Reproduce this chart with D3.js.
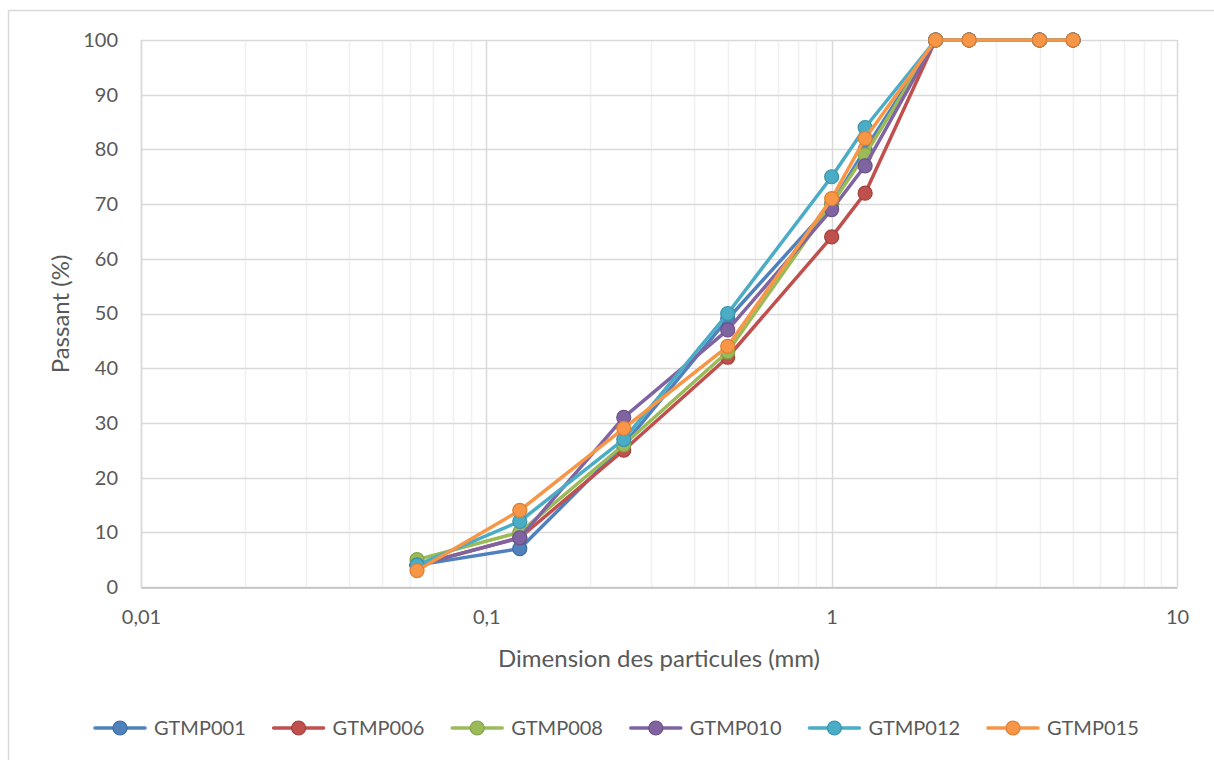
<!DOCTYPE html>
<html>
<head>
<meta charset="utf-8">
<script src="https://cdn.jsdelivr.net/npm/d3@7"></script>
<style>
	body { margin:0; background:#fff; }
	svg { display:block; font-family:Lato, "Open Sans", sans-serif; }
	.t_title { fill:#595959; font-size:24px; }
	.t_legend { fill:#595959; font-size:20px; }
</style>
</head>
<body>
<svg width="1214" height="760"></svg>
<script>

/* ----------------------------------------------------------
data
---------------------------------------------------------- */

// tamis (mm)
var sizes = [0.063, 0.125, 0.25, 0.5, 1, 1.25, 2, 2.5, 4, 5];
var names = ["GTMP001","GTMP006","GTMP008","GTMP010","GTMP012","GTMP015"];
var gtmp001 = [4, 7, 26, 49, 70, 80, 100, 100, 100, 100];
var gtmp006 = [4, 9, 25, 42, 64, 72, 100, 100, 100, 100];
var gtmp008 = [5, 10, 26, 43, 70, 79, 100, 100, 100, 100];
var gtmp010 = [4, 9, 31, 47, 69, 77, 100, 100, 100, 100];
var gtmp012 = [4, 12, 27, 50, 75, 84, 100, 100, 100, 100];
var gtmp015 = [3, 14, 29, 44, 71, 82, 100, 100, 100, 100];
var yTicks = [0,10,20,30,40,50,60,70,80,90,100];
var xTicks = [0.01, 0.1, 1, 10];
var xTickLabels = ["0,01","0,1","1","10"];

var series = [gtmp001, gtmp006, gtmp008, gtmp010, gtmp012, gtmp015];
var color = ["#4F81BD","#C0504D","#9BBB59","#8064A2","#4BACC6","#F79646"];
var stroke = ["#3d6ba3","#a43f3c","#84a14a","#6b5289","#3b93aa","#dd7e33"];

/* ----------------------------------------------------------
setting
---------------------------------------------------------- */

var svg = d3.select("svg");
svg.append("rect").attr("x",8.5).attr("y",10.5).attr("width",1220).attr("height",760)
	.style("fill","#fff").style("stroke","#d9d9d9").style("stroke-width",1.5);

var pLeft = 141, pTop = 40, pRight = 1177, pBottom = 587;
var x = d3.scaleLog().domain([0.01, 10]).range([pLeft, pRight]);
var y = d3.scaleLinear().domain([0, 100]).range([pBottom, pTop]);

var g = svg.append("g");

// minor grid
var minor = [];
for (var d = 0.01; d < 9; d *= 10) {
	for (var k = 2; k <= 9; k++) minor.push(d * k);
}
g.selectAll(".minor").data(minor).enter().append("line")
	.attr("x1",function(d){return Math.round(x(d))+0.5;})
	.attr("x2",function(d){return Math.round(x(d))+0.5;})
	.attr("y1",pTop).attr("y2",pBottom)
	.style("stroke","#f0f0f0").style("stroke-width",1.5);

// major grid
g.selectAll(".hgrid").data(yTicks).enter().append("line")
	.attr("x1",pLeft).attr("x2",pRight)
	.attr("y1",function(d){return Math.round(y(d))+0.5;})
	.attr("y2",function(d){return Math.round(y(d))+0.5;})
	.style("stroke","#d9d9d9").style("stroke-width",1.5);
g.selectAll(".vgrid").data(xTicks).enter().append("line")
	.attr("x1",function(d){return Math.round(x(d))+0.5;})
	.attr("x2",function(d){return Math.round(x(d))+0.5;})
	.attr("y1",pTop).attr("y2",pBottom)
	.style("stroke","#d9d9d9").style("stroke-width",1.5);

// axis
var yAxis = d3.axisLeft(y).tickValues(yTicks).tickSize(0).tickPadding(23);
var xAxis = d3.axisBottom(x).tickValues(xTicks).tickSize(0).tickPadding(22)
	.tickFormat(function(d,i){return xTickLabels[i];});
g.append("g").attr("transform","translate("+pLeft+",0)").call(yAxis)
	.call(function(s){s.select(".domain").style("stroke","#d9d9d9").style("stroke-width",1.5);});
g.append("g").attr("transform","translate(0,"+(pBottom+0.5)+")").call(xAxis)
	.call(function(s){s.select(".domain").style("stroke","#bfbfbf").style("stroke-width",1.5);});
svg.selectAll(".tick text").style("font-family","Lato").style("font-size","20px").style("fill","#595959");

// titles
svg.append("text").attr("class","t_title").attr("text-anchor","middle")
	.attr("transform","translate(69,314) rotate(-90)").text("Passant (%)");
svg.append("text").attr("class","t_title").attr("text-anchor","middle")
	.attr("x",659).attr("y",667).text("Dimension des particules (mm)");

/* ----------------------------------------------------------
lines
---------------------------------------------------------- */

var line = d3.line()
	.x(function(d,i){return x(sizes[i]);})
	.y(function(d){return y(d);});

series.forEach(function(s, n){
	var gs = g.append("g");
	gs.append("path").attr("d", line(s))
		.style("fill","none").style("stroke",color[n]).style("stroke-width",3.5)
		.style("stroke-linejoin","round");
	gs.selectAll("circle").data(s).enter().append("circle")
		.attr("cx",function(d,i){return x(sizes[i]);})
		.attr("cy",function(d){return y(d);})
		.attr("r",7)
		.style("fill",color[n]).style("stroke",stroke[n]).style("stroke-width",1.2);
});

/* ----------------------------------------------------------
legend
---------------------------------------------------------- */

var legs = svg.append("g").attr("transform","translate(120,728)")
	.selectAll(".legends").data(names).enter().append("g")
	.attr("transform",function(d,i){return "translate("+(i*178.6)+",0)";});
legs.append("line").attr("x1",-25).attr("x2",25)
	.style("stroke",function(d,i){return color[i];}).style("stroke-width",3.5).style("stroke-linecap","round");
legs.append("circle").attr("r",7)
	.style("fill",function(d,i){return color[i];})
	.style("stroke",function(d,i){return stroke[i];}).style("stroke-width",1.2);
legs.append("text").attr("x",34).attr("y",7).attr("class","t_legend")
	.text(function(d){return d;});

</script>
</body>
</html>
